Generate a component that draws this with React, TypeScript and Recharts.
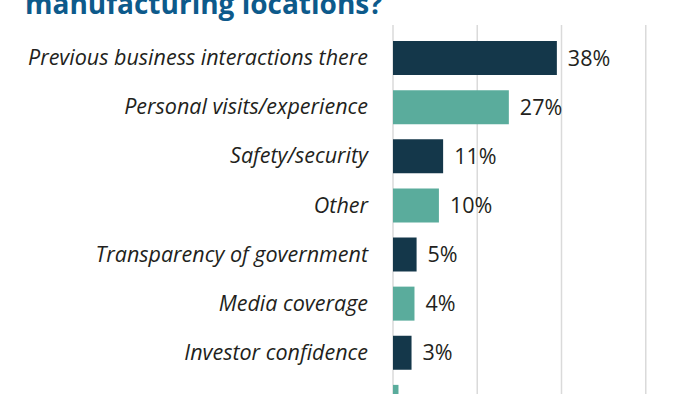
import React from 'react';
import { BarChart, Bar, XAxis, YAxis, CartesianGrid, Cell, LabelList } from 'recharts';

// last row is cut off at the bottom of the reference, its name is not visible
const categories = [
  'Previous business interactions there',
  'Personal visits/experience',
  'Safety/security',
  'Other',
  'Transparency of government',
  'Media coverage',
  'Investor confidence',
  '',
];
const values = [38.9, 27.5, 11.9, 10.9, 5.6, 5.1, 4.4, 1.3];
const valueLabels = ['38%', '27%', '11%', '10%', '5%', '4%', '3%', ''];
const xTicks = [0, 20, 40, 60, 80];
const colors = ['#14374a', '#5aac9c'];

const data = categories.map((name, i) => ({
  name,
  value: values[i],
  label: valueLabels[i],
}));

export default function App() {
  return (
    <div style={{ position: 'absolute', top: 0, left: 0, width: 700, height: 394, overflow: 'hidden', background: '#fff' }}>
      <svg width={700} height={30} style={{ position: 'absolute', top: 0, left: 0 }}>
        <text x={25} y={13.5} fill="#0d5a8b" fontFamily="'Open Sans', sans-serif" fontWeight={700} fontSize={28}>
          manufacturing locations?
        </text>
      </svg>
      <div style={{ position: 'absolute', top: 0, left: 0 }}>
        <BarChart
          width={730}
          height={442}
          data={data}
          layout="vertical"
          margin={{ top: 25, right: 0, bottom: 8, left: 0 }}
        >
          <CartesianGrid horizontal={false} stroke="#dadada" strokeWidth={1.5} />
          <XAxis type="number" domain={[0, 80]} ticks={xTicks} hide />
          <YAxis
            type="category"
            dataKey="name"
            width={393}
            axisLine={false}
            tickLine={false}
            tickMargin={19}
            padding={{ top: 8, bottom: 8 }}
            tick={{ fill: '#231f20', fontSize: 21.5, fontStyle: 'italic', fontFamily: "'Open Sans', sans-serif" }}
          />
          <Bar dataKey="value" barSize={34} isAnimationActive={false}>
            {data.map((d, i) => (
              <Cell key={i} fill={colors[i % 2]} />
            ))}
            <LabelList
              dataKey="label"
              position="right"
              offset={11}
              fill="#231f20"
              fontSize={21.5}
              fontFamily="'Open Sans', sans-serif"
            />
          </Bar>
        </BarChart>
      </div>
    </div>
  );
}
